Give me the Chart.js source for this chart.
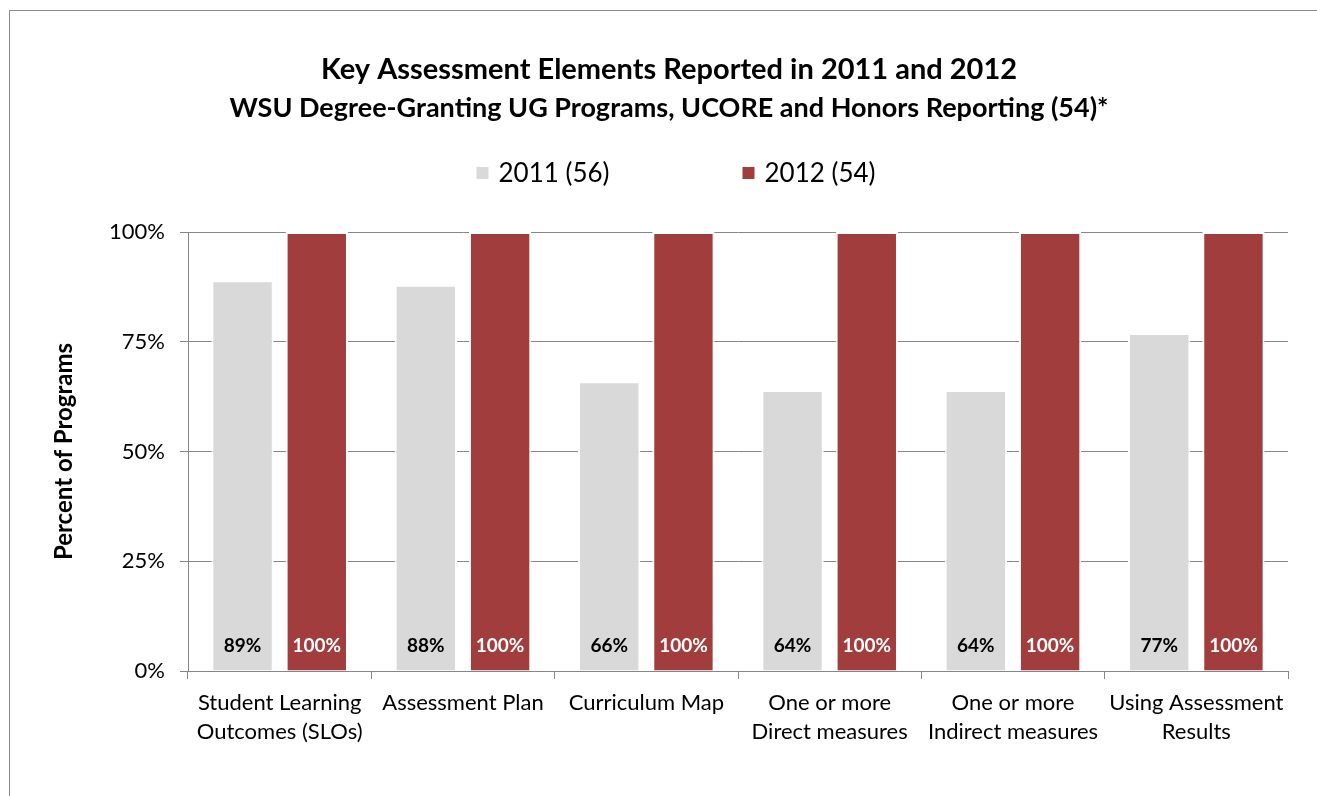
<!DOCTYPE html>
<html>
<head>
<meta charset="utf-8">
<script src="https://cdn.jsdelivr.net/npm/chart.js@4.4.0/dist/chart.umd.min.js"></script>
<style>
  html, body { margin: 0; padding: 0; background: #fff; }
  #wrap { width: 1317px; height: 796px; }
</style>
</head>
<body>
<div id="wrap"><canvas id="graph"></canvas></div>
<script>
// データ
var categories = [
    ['Student Learning', 'Outcomes (SLOs)'],
    ['Assessment Plan'],
    ['Curriculum Map'],
    ['One or more', 'Direct measures'],
    ['One or more', 'Indirect measures'],
    ['Using Assessment', 'Results']
];
var values2011 = [89, 88, 66, 64, 64, 77];
var values2012 = [100, 100, 100, 100, 100, 100];
var yTicks = [0, 25, 50, 75, 100];

var FONT = 'Lato, "Open Sans", sans-serif';
var GRID = '#868686';

// 枠線
var framePlugin = {
    id: 'frame',
    beforeDraw: function (chart) {
        var c = chart.ctx;
        c.save();
        c.strokeStyle = '#8c8c8c';
        c.lineWidth = 1;
        c.strokeRect(9.5, 10.5, 1400, 1000);
        c.restore();
    }
};

// 凡例（手描き）
var legendPlugin = {
    id: 'customLegend',
    afterDraw: function (chart) {
        var c = chart.ctx;
        var ds = chart.data.datasets;
        c.save();
        c.font = '26px ' + FONT;
        c.textBaseline = 'middle';
        var box = 12, gap = 10, spacing = 133;
        var widths = ds.map(function (d) { return box + gap + c.measureText(d.label).width; });
        var total = widths[0] + spacing + widths[1];
        var x = 676 - total / 2;
        var y = 173;
        ds.forEach(function (d, i) {
            c.fillStyle = d.backgroundColor;
            c.fillRect(x, y - box / 2, box, box);
            c.fillStyle = '#000';
            c.fillText(d.label, x + box + gap, y + 1);
            x += widths[i] + spacing;
        });
        c.restore();
    }
};

// 棒の中の値ラベル
var valueLabels = {
    id: 'valueLabels',
    afterDatasetsDraw: function (chart) {
        var c = chart.ctx;
        c.save();
        c.font = 'bold 19px ' + FONT;
        c.textAlign = 'center';
        c.textBaseline = 'middle';
        chart.data.datasets.forEach(function (d, i) {
            var meta = chart.getDatasetMeta(i);
            c.fillStyle = i === 0 ? '#000' : '#fff';
            meta.data.forEach(function (bar, j) {
                c.fillText(d.data[j] + '%', bar.x, chart.chartArea.bottom - 25);
            });
        });
        c.restore();
    }
};

var ctx = document.getElementById('graph');
new Chart(ctx, {
    type: 'bar',
    data: {
        labels: categories,
        datasets: [{
            label: '2011 (56)',
            data: values2011,
            backgroundColor: '#d9d9d9',
            borderColor: '#ffffff',
            borderWidth: 2,
            categoryPercentage: 0.81,
            barPercentage: 0.84
        }, {
            label: '2012 (54)',
            data: values2012,
            backgroundColor: '#a13d3d',
            borderColor: '#ffffff',
            borderWidth: 2,
            categoryPercentage: 0.81,
            barPercentage: 0.84
        }]
    },
    options: {
        responsive: true,
        maintainAspectRatio: false,
        animation: false,
        layout: { padding: { left: 50, right: 29, top: 10, bottom: 0 } },
        plugins: {
            legend: { display: false },
            tooltip: { enabled: false },
            title: {
                display: true,
                text: 'Key Assessment Elements Reported in 2011 and 2012',
                color: '#000',
                font: { family: FONT, size: 29, weight: 'bold' },
                padding: { top: 42.6, bottom: 0 }
            },
            subtitle: {
                display: true,
                text: 'WSU Degree-Granting UG Programs, UCORE and Honors Reporting (54)*',
                color: '#000',
                font: { family: FONT, size: 27, weight: 'bold' },
                padding: { top: 4.4, bottom: 107.8 }
            }
        },
        scales: {
            x: {
                grid: { offset: true, drawOnChartArea: false, drawTicks: true, tickLength: 8, color: GRID },
                border: { color: GRID },
                ticks: { color: '#000', font: { family: FONT, size: 22, lineHeight: 1.32 }, padding: 9, maxRotation: 0, autoSkip: false },
                afterFit: function (s) { s.height = 125; }
            },
            y: {
                min: 0,
                max: 100,
                afterBuildTicks: function (s) { s.ticks = yTicks.map(function (v) { return { value: v }; }); },
                grid: { color: GRID, tickLength: 8 },
                border: { color: GRID },
                ticks: {
                    color: '#000',
                    font: { family: FONT, size: 22 },
                    padding: 15,
                    callback: function (v) { return v + '%'; }
                },
                title: {
                    display: true,
                    text: 'Percent of Programs',
                    color: '#000',
                    font: { family: FONT, size: 24, weight: 'bold' },
                    padding: { top: 0, bottom: 0 }
                },
                afterFit: function (s) { s.width = 138; }
            }
        }
    },
    plugins: [framePlugin, legendPlugin, valueLabels]
});
</script>
</body>
</html>
